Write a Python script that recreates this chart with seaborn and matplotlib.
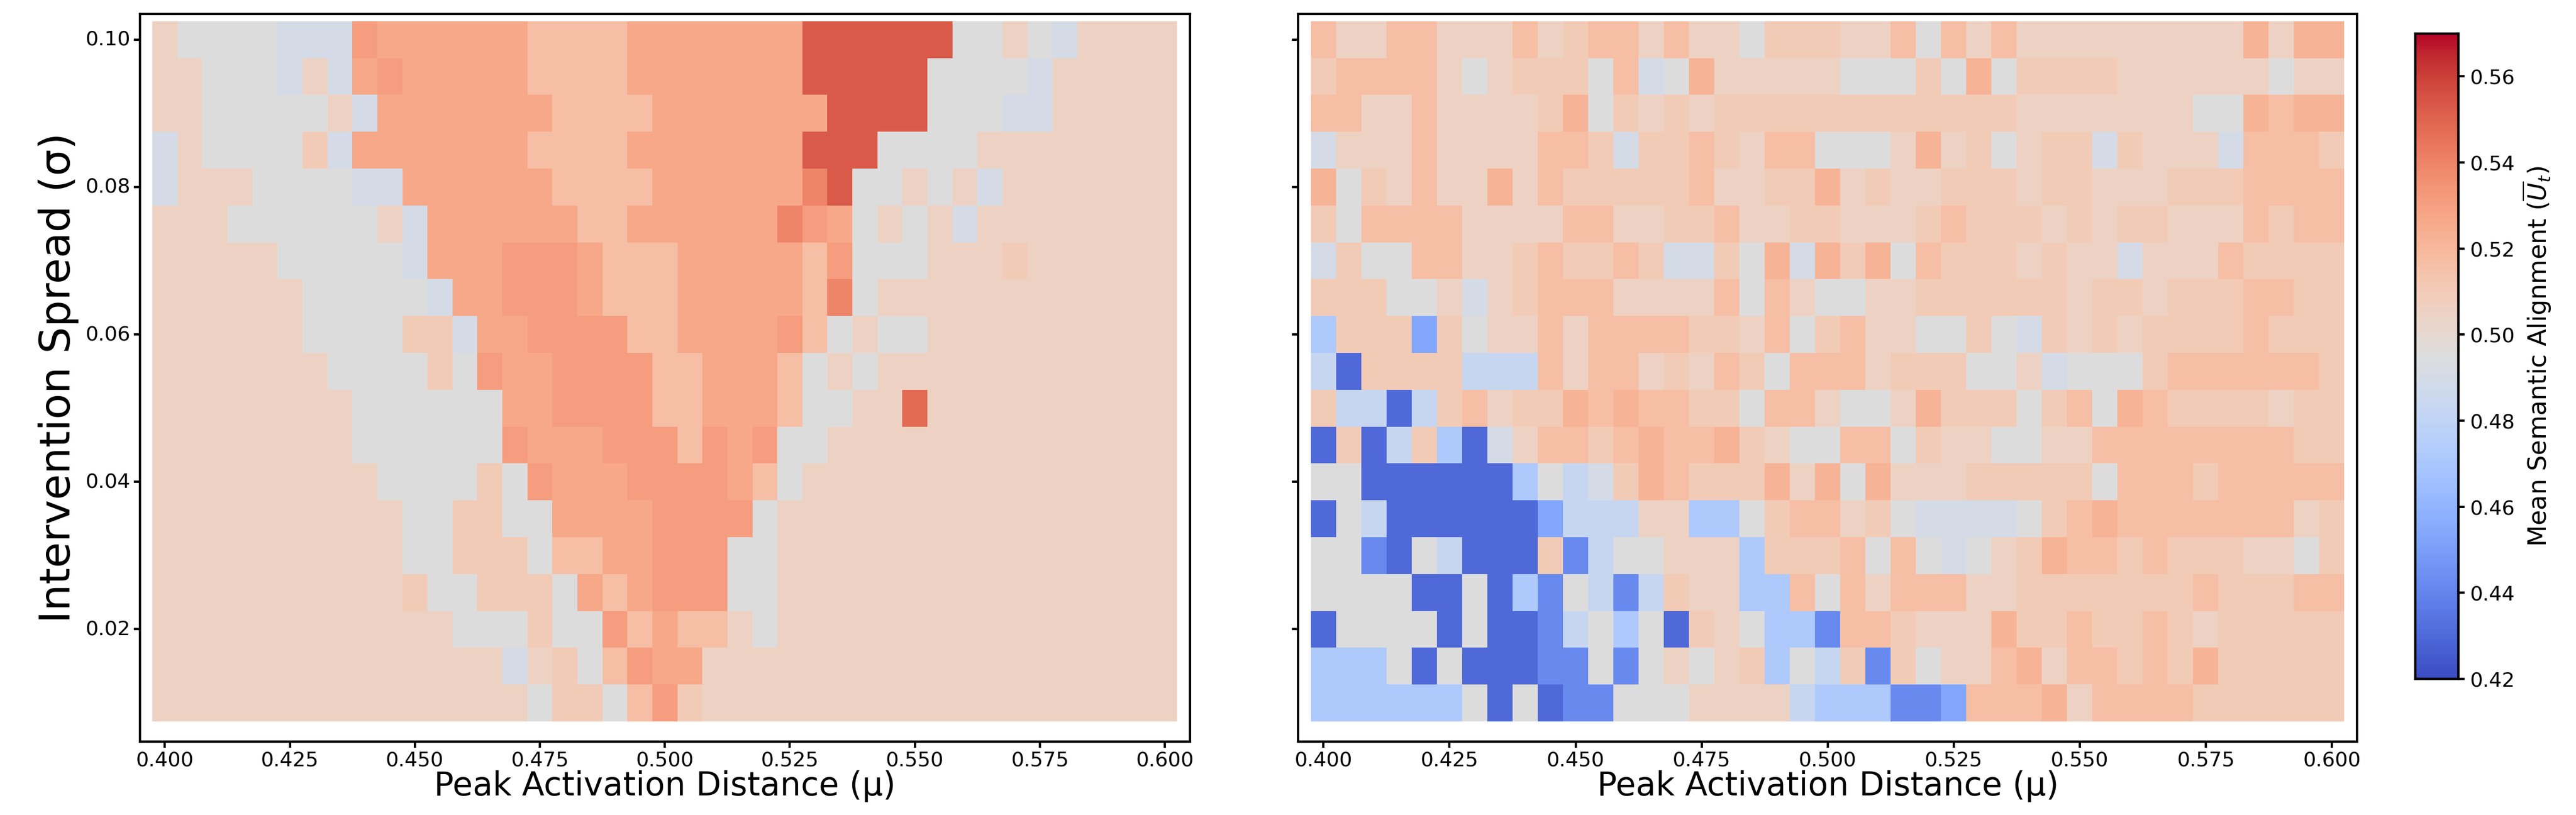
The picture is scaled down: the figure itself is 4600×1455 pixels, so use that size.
import numpy as np
import pandas as pd
import matplotlib
matplotlib.use("Agg")
import matplotlib.pyplot as plt
import seaborn as sns

# grid of the sweep
mu = [round(0.400 + 0.005 * i, 3) for i in range(41)]
sigma = [round(0.100 - 0.005 * j, 3) for j in range(19)]  # top row first

# colour levels (one letter per cell)
levels = {
    "D": 0.430, "N": 0.442, "M": 0.453, "B": 0.472, "c": 0.483, "b": 0.490,
    "g": 0.495, "e": 0.505, "f": 0.510, "l": 0.517, "L": 0.522,
    "s": 0.527, "S": 0.531, "o": 0.540, "O": 0.548, "R": 0.553,
}

left_rows = [
    "eggggbbbSssssssllllsssssssRRRRRRggegbeeee",
    "eegggbebsSsssssllllsssssssRRRRRggggbeeeee",
    "eegggggebsssssssllllsssssssRRRRgggbbeeeee",
    "beggggfbsssssssllllsssssssRRRggggeeeeeee",
    "beeeggggbbssssssllllssssssoRggegebeeeeee",
    "eeeggggggebssssssllssssssoSsgegebeeeeeee",
    "eeeeegggggbsssSSSslllssssslSgggeeefeeeeee",
    "eeeeeegggggbssSSSslllssssslogeeeeeeeeeeee",
    "eeeeeeggggffbssSSSSllssssSlgeggeeeeeeeeee",
    "eeeeeeeggggfgSssSSSSllssslgegeeeeeeeeeeee",
    "eeeeeeeeggggggssSSSSllssslggeeOeeeeeeeeee",
    "eeeeeeeeggggggSsssSSSlSsSggeeeeeeeeeeeeee",
    "eeeeeeeeeggggfgSsssSSSSslgeeeeeeeeeeeeeee",
    "eeeeeeeeeeggffggssssSSSSgeeeeeeeeeeeeeeee",
    "eeeeeeeeeeggfffgllssSSSggeeeeeeeeeeeeeeee",
    "eeeeeeeeeefggfffgslsSSSggeeeeeeeeeeeeeeee",
    "eeeeeeeeeeeegggfggSlsllegeeeeeeeeeeeeeeeee",
    "eeeeeeeeeeeeeebefglSsseeeeeeeeeeeeeeeeeee",
    "eeeeeeeeeeeeeeegffglSfeeeeeeeeeeeeeeeeeee",
]

right_rows = [
    "leelleeeleflleleegfffeelglelee eeeeeeeLeL",
    "fllllegefffglbgLeeeeegggfgLgffffeeeeeegee",
    "lleeleeeefLgfefeffffffffffffeeeeeeeggLlL",
    "beeeleeeellfbfflfellgggeLefgeffbfeeeblllfl",
    "LgfeleeLelfffffleeffLefeefffeffeeeffflllll",
    "fglllleeeelleeffleeffeeeflfffefeffeeelflll",
    "bfgglleeflfflfbbfgLbLfLglfffefeebeeelffff",
    "fffggebefllleeeelgleggeeffffffeffefffllfflf",
    "BfffMfgeelellllffelgfleeggfgbfefefffflffff",
    "cDffffccclellefelfglllefffggebgggfllllllfl",
    "fccDcfleffLlLllffgllegge Lfffgfl gLlffffeff",
    "DfDcfBDbellflLllLfeggllgfeeggeel lllllllff",
    "ggDDDDDDBgcbfLlfffLeLgLeeefffffglllflllll",
    "DgcDDDDDDMcccee BBgfl lefgbbbbgflLlllllllef",
    "ggNDgcDDDfNcggeeeBffflglgbgefLllflfffeegff",
    "ggggDDgDBNgcNcfeeBBlglellleeffffffflfffllfff",
    "DggggDgDDNcgBgDfegBBNllfeeeLfflfflfefffff",
    "BBBgDgDDDNNgNgegefBgcfNfgeelLellflfLffff",
    "BBBBBBgDgDNNgggeeeecBBBNNMlllLellllffffff",
]


def to_frame(rows):
    grid = []
    for r in rows:
        r = r.replace(" ", "")
        vals = [levels[ch] for ch in r][:41]
        while len(vals) < 41:
            vals.append(vals[-1])
        grid.append(vals)
    return pd.DataFrame(grid, index=sigma, columns=mu)


left_df = to_frame(left_rows)
right_df = to_frame(right_rows)

fig = plt.figure(figsize=(23, 7.275), dpi=200)
ax1 = fig.add_axes([0.0543, 0.090, 0.4076, 0.893])
ax2 = fig.add_axes([0.5040, 0.090, 0.4110, 0.893])
cax = fig.add_axes([0.9376, 0.167, 0.0167, 0.792])

vmin, vmax = 0.42, 0.57
sns.heatmap(left_df, ax=ax1, cmap="coolwarm", vmin=vmin, vmax=vmax, cbar=False)
sns.heatmap(right_df, ax=ax2, cmap="coolwarm", vmin=vmin, vmax=vmax,
            cbar_ax=cax, cbar_kws={"ticks": np.arange(0.42, 0.561, 0.02)})

xt = [0.400, 0.425, 0.450, 0.475, 0.500, 0.525, 0.550, 0.575, 0.600]
yt = [0.02, 0.04, 0.06, 0.08, 0.10]
for ax in (ax1, ax2):
    ax.set_xticks([(v - 0.4) / 0.005 + 0.5 for v in xt])
    ax.set_xticklabels([f"{v:.3f}" for v in xt], rotation=0, fontsize=13)
    ax.set_yticks([(0.10 - v) / 0.005 + 0.5 for v in yt])
    ax.set_xlim(-0.5, 41.5)
    ax.set_ylim(19.55, -0.2)
    for s in ax.spines.values():
        s.set_visible(True)
        s.set_linewidth(1.5)
    ax.tick_params(width=1.5, length=4, pad=2)
    ax.set_xlabel("Peak Activation Distance (μ)", fontsize=21, labelpad=0)
ax1.set_yticklabels([f"{v:.2f}" for v in yt], rotation=0, fontsize=13)
ax1.set_ylabel("Intervention Spread (σ)", fontsize=27, labelpad=4)
ax2.set_yticklabels([])
ax2.set_ylabel("")

cax.tick_params(labelsize=13, width=1.5, length=4)
cax.set_ylabel(r"Mean Semantic Alignment ($\overline{U}_t$)", fontsize=16)
for s in cax.spines.values():
    s.set_visible(True)
    s.set_linewidth(1.5)

fig.savefig("out.png", dpi=200)
